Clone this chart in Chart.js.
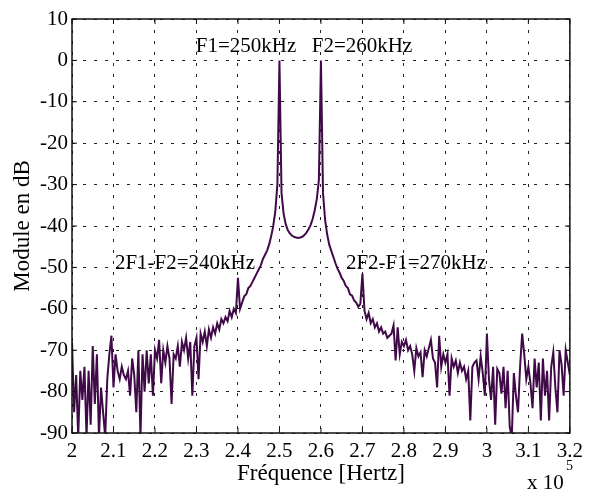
<!DOCTYPE html>
<html>
<head>
<meta charset="utf-8">
<script src="https://cdn.jsdelivr.net/npm/chart.js@4.4.1/dist/chart.umd.min.js"></script>
<style>
  html, body { margin: 0; padding: 0; background: #fff; }
  #wrap { width: 589px; height: 492px; }
</style>
</head>
<body>
<div id="wrap"><canvas id="spectre"></canvas></div>
<script>
// spectrum sampled every 0.5 kHz from 200 kHz to 320 kHz (values in dB)
const freqStart = 200000;
const freqStep = 500;
const moduleDb = [
  -68, -85, -76, -91, -75, -82, -74, -91, -75, -88,        // 200 - 204.5
  -69, -83, -71, -91, -79, -85, -91, -77, -71, -66.5,      // 205
  -79, -71, -75, -77, -74, -76, -77, -75, -81, -72,        // 210
  -76, -85, -70, -91, -71, -80, -70, -78, -71, -81,        // 215
  -70, -72, -67.5, -78, -70, -73, -69, -72, -83, -71,      // 220
  -72, -69, -74, -68, -70, -67, -72, -68, -81, -69,        // 225
  -67, -77, -66, -68, -65.5, -69, -65, -67, -64.5, -66,    // 230
  -63.5, -65, -62.5, -63.5, -62, -63, -60.5, -62, -60, -61, // 235
  -52.5, -60, -58.5, -57, -56.5, -55, -54.5, -53.5, -52.5, -51.5, // 240
  -50.5, -49.5, -48, -47, -46, -44.5, -42.5, -40, -36.5, -30,     // 245
  0, -32, -37, -39.5, -41, -41.8, -42.3, -42.6, -42.8, -42.9,     // 250
  -42.8, -42.6, -42.2, -41.6, -40.8, -39.8, -38.3, -36.2, -33.5, -29, // 255
  0, -32, -38.5, -42, -44.5, -46, -47.5, -49, -50.3, -51.3,       // 260
  -52.5, -53.3, -54.5, -55, -56.5, -56.8, -58, -58.5, -59.5, -58.8, // 265
  -51.5, -60.5, -62.5, -61, -63.5, -62.5, -64.5, -63.5, -65.5, -64.5, // 270
  -66, -65.5, -67, -66.5, -66, -64, -72.5, -64.5, -71, -68,       // 275
  -69, -67.5, -70, -69, -71, -75, -69.5, -71.5, -70.5, -76.5,     // 280
  -70, -71.5, -69.5, -67.5, -72, -73, -79, -66.5, -74, -71,       // 285
  -73, -71, -81, -72, -74, -72.5, -75.5, -73, -75, -74,           // 290
  -77, -75, -87, -74, -73, -72.5, -77, -71.5, -75.5, -81,         // 295
  -66, -77, -82, -74, -88, -74.5, -75.5, -80.5, -74, -84,         // 300
  -75, -88.5, -91, -75.5, -81, -85, -74, -66, -71, -77,           // 305
  -74, -78, -84, -72, -79, -73, -87, -72, -81, -75,               // 310
  -87, -74, -70.5, -79, -85, -70, -73.5, -81, -70, -73,           // 315
  -76                                                             // 320
];

const xTicks = [200000, 210000, 220000, 230000, 240000, 250000, 260000, 270000, 280000, 290000, 300000, 310000, 320000];
const yTicks = [10, 0, -10, -20, -30, -40, -50, -60, -70, -80, -90];

const notes = [
  { text: 'F1=250kHz', x: 246, y: 52 },
  { text: 'F2=260kHz', x: 362, y: 52 },
  { text: '2F1-F2=240kHz', x: 185, y: 269 },
  { text: '2F2-F1=270kHz', x: 416, y: 269 }
];

const serif = '"Liberation Serif", "Times New Roman", serif';
const lineColor = '#400a48';

const points = moduleDb.map(function (v, i) {
    return { x: freqStart + i * freqStep, y: v };
});

const framePlugin = {
    id: 'frame',
    afterDatasetsDraw(chart) {
        const ctx = chart.ctx;
        const a = chart.chartArea;
        const xs = chart.scales.x;
        const ys = chart.scales.y;
        ctx.save();
        ctx.strokeStyle = '#111';
        ctx.lineWidth = 1;
        ctx.beginPath();
        xTicks.forEach(function (t) {
            const px = xs.getPixelForValue(t);
            ctx.moveTo(px, a.bottom); ctx.lineTo(px, a.bottom - 5);
            ctx.moveTo(px, a.top); ctx.lineTo(px, a.top + 5);
        });
        yTicks.forEach(function (t) {
            const py = ys.getPixelForValue(t);
            ctx.moveTo(a.left, py); ctx.lineTo(a.left + 5, py);
            ctx.moveTo(a.right, py); ctx.lineTo(a.right - 5, py);
        });
        ctx.stroke();
        ctx.lineWidth = 1.5;
        ctx.strokeRect(a.left, a.top, a.right - a.left, a.bottom - a.top);

        ctx.fillStyle = '#000';
        ctx.textAlign = 'center';
        ctx.textBaseline = 'alphabetic';
        ctx.font = '21px ' + serif;
        notes.forEach(function (n) {
            ctx.fillText(n.text, n.x, n.y);
        });

        ctx.textAlign = 'left';
        ctx.font = '21px ' + serif;
        ctx.fillText('x 10', 527, 489);
        ctx.font = '14px ' + serif;
        ctx.fillText('5', 566, 470);
        ctx.restore();
    }
};

new Chart(document.getElementById('spectre').getContext('2d'), {
    type: 'line',
    data: {
        datasets: [{
            data: points,
            borderColor: lineColor,
            borderWidth: 2,
            pointRadius: 0,
            tension: 0,
            fill: false
        }]
    },
    options: {
        responsive: true,
        maintainAspectRatio: false,
        animation: false,
        events: [],
        layout: { padding: { top: 19, right: 16, left: 0, bottom: 0 } },
        plugins: { legend: { display: false }, tooltip: { enabled: false } },
        scales: {
            x: {
                type: 'linear',
                min: 200000,
                max: 320000,
                afterFit: function (scale) { scale.height = 59; },
                afterBuildTicks: function (scale) {
                    scale.ticks = xTicks.map(function (v) { return { value: v }; });
                },
                ticks: {
                    color: '#000',
                    padding: 6,
                    maxRotation: 0,
                    autoSkip: false,
                    font: { family: serif, size: 21 },
                    callback: function (v) { return String(Number((v / 1e5).toFixed(1))); }
                },
                grid: { color: '#222', lineWidth: 1, drawTicks: false },
                border: { display: false, dash: [3, 8] },
                title: {
                    display: true,
                    text: 'Fréquence [Hertz]',
                    color: '#000',
                    font: { family: serif, size: 23 },
                    padding: { top: 0, bottom: 4 }
                }
            },
            y: {
                min: -90,
                max: 10,
                afterFit: function (scale) { scale.width = 72; },
                afterBuildTicks: function (scale) {
                    scale.ticks = yTicks.slice().reverse().map(function (v) { return { value: v }; });
                },
                ticks: {
                    color: '#000',
                    padding: 4,
                    autoSkip: false,
                    font: { family: serif, size: 21 }
                },
                grid: { color: '#222', lineWidth: 1, drawTicks: false },
                border: { display: false, dash: [3, 8] },
                title: {
                    display: true,
                    text: 'Module en dB',
                    color: '#000',
                    font: { family: serif, size: 23 },
                    padding: { top: 9, bottom: 0 }
                }
            }
        }
    },
    plugins: [framePlugin]
});
</script>
</body>
</html>
